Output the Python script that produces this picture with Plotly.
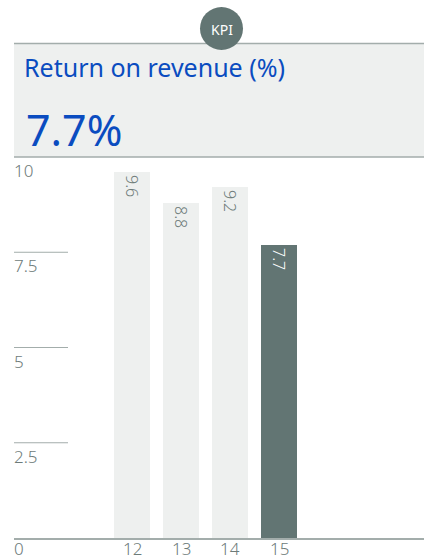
import plotly.graph_objects as go

# Data
years = ["12", "13", "14", "15"]
values = [9.6, 8.8, 9.2, 7.7]
tick_values = [0, 2.5, 5, 7.5, 10]
grid_values = [2.5, 5, 7.5]
title_text = "Return on revenue (%)"
badge_text = "KPI"

W, H = 424, 559
LIGHT = "#eef0ef"
DARK = "#627573"
GREY_TEXT = "#6d7b79"
RULE = "#a3adab"
BLUE = "#0a4cc0"
FONT = "Noto Sans"

bar_colors = [LIGHT] * (len(values) - 1) + [DARK]
text_colors = [GREY_TEXT] * (len(values) - 1) + ["#ffffff"]

fig = go.Figure()
fig.add_trace(go.Bar(
    x=years, y=values,
    marker=dict(color=bar_colors, line=dict(width=0)),
    width=0.735,
    text=[f"{v:.1f}" for v in values],
    textposition="inside",
    insidetextanchor="end",
    textangle=90,
    textfont=dict(family=FONT, size=16, color=text_colors, weight=300),
    hoverinfo="skip",
))

px = lambda v: v / W          # horizontal pixel -> paper
py = lambda v: 1 - v / H      # vertical pixel (from top) -> paper

shapes = [
    # header panel
    dict(type="rect", xref="paper", yref="paper", x0=px(14), x1=1,
         y0=py(157), y1=py(43.5), fillcolor=LIGHT, line=dict(width=0), layer="below"),
    dict(type="line", xref="paper", yref="paper", x0=px(14), x1=1,
         y0=py(43.5), y1=py(43.5), line=dict(color=RULE, width=1.5)),
    dict(type="line", xref="paper", yref="paper", x0=px(14), x1=1,
         y0=py(157), y1=py(157), line=dict(color=RULE, width=1.5)),
    # badge
    dict(type="circle", xref="paper", yref="paper", x0=px(200), x1=px(243),
         y0=py(50), y1=py(7), fillcolor=DARK, line=dict(width=0)),
]
for g in grid_values:
    shapes.append(dict(type="line", xref="paper", yref="y", x0=px(14), x1=px(68),
                       y0=g, y1=g, line=dict(color=RULE, width=1)))

annotations = [
    dict(text=badge_text, xref="paper", yref="paper", x=px(221.5), y=py(29),
         xanchor="center", yanchor="middle", showarrow=False,
         font=dict(family=FONT, size=14, color="#ffffff")),
    dict(text=title_text, xref="paper", yref="paper", x=px(22), y=py(67),
         xanchor="left", yanchor="middle", showarrow=False,
         font=dict(family=FONT, size=25, color=BLUE)),
    dict(text=f"{values[-1]:.1f}%", xref="paper", yref="paper", x=px(24), y=py(129),
         xanchor="left", yanchor="middle", showarrow=False,
         font=dict(family=FONT, size=43, color=BLUE)),
]
# value-axis labels sit just below their rule; the bottom one is nudged up to stay on the page
for t in tick_values:
    annotations.append(dict(text=f"{t:g}", xref="paper", yref="y", x=px(12), y=t,
                            xanchor="left", yanchor="top", yshift=3 if t == 0 else 0,
                            showarrow=False,
                            font=dict(family=FONT, size=17, color=GREY_TEXT, weight=300)))
# year labels under the baseline (category axis: positions are serial indices)
for i, yr in enumerate(years):
    annotations.append(dict(text=yr, xref="x", yref="y", x=i, y=0,
                            xanchor="center", yanchor="top", yshift=3, showarrow=False,
                            font=dict(family=FONT, size=17, color=GREY_TEXT, weight=300)))

fig.update_layout(
    width=W, height=H,
    margin=dict(l=0, r=0, t=0, b=0, autoexpand=False),
    paper_bgcolor="#ffffff", plot_bgcolor="rgba(0,0,0,0)",
    showlegend=False,
    shapes=shapes, annotations=annotations,
    bargap=0,
    xaxis=dict(domain=[px(14), 1], type="category", range=[-2.408, 5.959], automargin=False,
               showgrid=False, zeroline=False, showline=True, linecolor=RULE, linewidth=1.5,
               ticks="", showticklabels=False, fixedrange=True),
    yaxis=dict(domain=[21 / H, 1 - 157 / H], range=[0, 10], showgrid=False, zeroline=False,
               automargin=False, showticklabels=False, ticks="", fixedrange=True),
)

fig.write_html("out.html")
